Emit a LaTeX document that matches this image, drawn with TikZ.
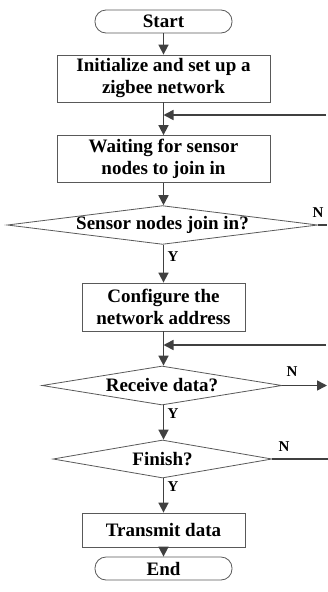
\documentclass[tikz,border=0pt]{standalone}
\usepackage{fontspec}
\setmainfont{Liberation Serif}
\usetikzlibrary{arrows.meta, shapes.geometric}

\begin{document}
\begin{tikzpicture}[x=1pt, y=-1pt,
    every node/.style={font=\bfseries\fontsize{19}{22}\selectfont, align=center, inner sep=0pt},
    term/.style={draw=black!65, line width=0.8pt, rounded corners=11pt, minimum width=137pt, minimum height=23pt},
    proc/.style={draw=black!65, line width=0.8pt, minimum height=47pt},
    decide/.style={diamond, draw=black!65, line width=0.8pt, aspect=8},
    flow/.style={draw=black!75, line width=1.6pt, -{Triangle[length=10pt, width=10pt]}},
    plain/.style={draw=black!75, line width=1.6pt},
    yn/.style={font=\bfseries\fontsize{15}{17}\selectfont}]

        \useasboundingbox (0,0) rectangle (328,592);

        % Main column
        \node[term] (start) at (163.5, 21.5) {Start};
        \node[proc, minimum width=213pt] (init) at (163.5, 78.5) {Initialize and set up a\\zigbee network};
        \node[proc, minimum width=213pt] (wait) at (163.5, 159) {Waiting for sensor\\nodes to join in};
        \node[decide, minimum width=305pt, minimum height=36pt] (join) at (162.5, 225) {Sensor nodes join in?};
        \node[proc, minimum width=163pt, minimum height=48pt] (config) at (163.5, 307) {Configure the\\network address};
        \node[decide, minimum width=240pt, minimum height=39pt] (recv) at (162, 385.5) {Receive data?};
        \node[decide, minimum width=219pt, minimum height=38pt] (fin) at (162.5, 459) {Finish?};
        \node[proc, minimum width=163pt, minimum height=34pt] (trans) at (163.5, 530) {Transmit data};
        \node[term] (end) at (163.5, 568.5) {End};

        % Loose ends at the right edge
        \coordinate (fbA) at (326, 115);
        \coordinate (fbB) at (326, 345);
        \coordinate (joinN) at (327, 225);
        \coordinate (recvN) at (327, 385.5);
        \coordinate (finN) at (328, 459);

        % Arrows down
        \draw[flow] (start) -- (init);
        \draw[flow] (init) -- (wait);
        \draw[flow] (wait) -- (join.north -| wait);
        \draw[flow] (join.south -| config) -- (config);
        \draw[flow] (config) -- (recv.north -| config);
        \draw[flow] (recv.south -| config) -- (fin.north -| config);
        \draw[flow] (fin.south -| trans) -- (trans);
        \draw[flow] (trans) -- (end);

        % Feedback
        \draw[flow] (fbA) -- (fbA -| init.south);
        \draw[flow] (fbB) -- (fbB -| config.south);

        % No branches
        \draw[plain] (join.east) -- (joinN);
        \draw[flow] (recv.east) -- (recvN);
        \draw[plain] (fin.east) -- (finN);

        % Labels
        \node[yn] (joinY) at (173, 257) {Y};
        \node[yn] (recvY) at (173, 414) {Y};
        \node[yn] (finY) at (173, 487) {Y};
        \node[yn] (joinNo) at (318, 213) {N};
        \node[yn] (recvNo) at (292, 372) {N};
        \node[yn] (finNo) at (284, 447) {N};

    \end{tikzpicture}
\end{document}
